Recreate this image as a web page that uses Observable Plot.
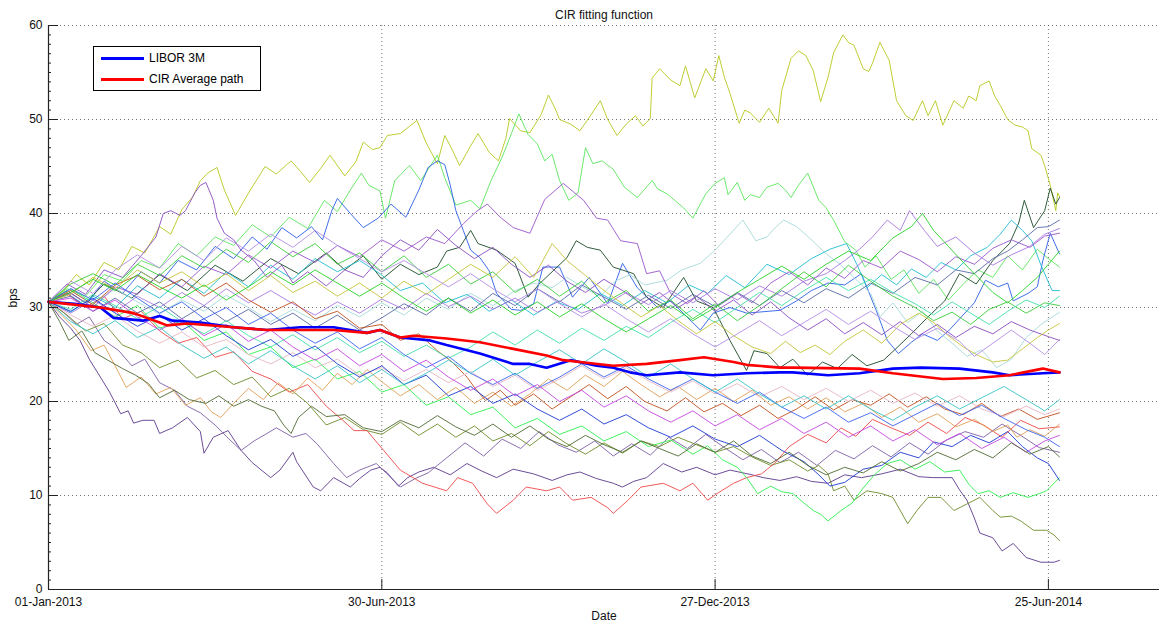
<!DOCTYPE html>
<html><head><meta charset="utf-8">
<script src="https://cdn.jsdelivr.net/npm/d3@7"></script>
<script src="https://cdn.jsdelivr.net/npm/@observablehq/plot@0.6"></script>
<style>
body{margin:0;background:#fff;font-family:"Liberation Sans",Arial,sans-serif;}
#wrap{position:relative;width:1161px;height:631px;}
#legend{position:absolute;left:93px;top:46px;width:166px;height:43px;border:1px solid #000;background:#fff;font-size:12px;color:#000;}
#legend .row{position:absolute;left:0;height:14px;display:flex;align-items:center;}
#legend .sw{display:inline-block;width:43px;height:0;border-top:3px solid;margin-left:7px;margin-right:5px;}
</style>
</head><body>
<div id="wrap"><div id="chart"></div>
<div id="legend">
 <div class="row" style="top:4px"><span class="sw" id="sw1"></span><span id="lg1"></span></div>
 <div class="row" style="top:25px"><span class="sw" id="sw2"></span><span id="lg2"></span></div>
</div></div>
<script>
const chartTitle = "CIR fitting function";
const yLabel = "bps";
const xLabel = "Date";
const legendLabels = ["LIBOR 3M", "CIR Average path"];
const legendColors = ["#0000ff", "#ff0000"];
const startDate = "2013-01-01";
const xDomainEnd = "2014-08-24";
const xTickDates = ["2013-01-01", "2013-06-30", "2013-12-27", "2014-06-25"];
const yTicks = [0, 10, 20, 30, 40, 50, 60];

// LIBOR 3M: [day since 01-Jan-2013, bps]
const libor = [[0,30.6],[14,30.4],[28,30],[35,28.9],[51,28.6],[60,29.1],[67,28.6],[82,28.4],[100,27.9],[118,27.6],[136,27.9],[154,27.9],[172,27.3],[179,27.6],[190,26.8],[206,26.5],[215,26],[233,25.1],[251,24],[260,24],[269,23.6],[282,24.4],[296,23.8],[305,23.6],[314,23.1],[323,22.8],[341,23.1],[359,22.8],[377,23],[395,23.1],[402,23.1],[421,22.8],[438,23],[456,23.5],[471,23.6],[492,23.5],[510,23.1],[519,22.8],[537,23],[546,23.1]];
// CIR average path
const cirAverage = [[0,30.6],[28,30],[46,29.4],[60,28.4],[64,28.1],[75,28.3],[100,27.9],[118,27.6],[154,27.6],[172,27.3],[179,27.6],[190,26.8],[197,27],[215,26.7],[233,26.3],[251,25.6],[269,24.9],[278,24.4],[287,24.2],[305,23.8],[323,24],[341,24.4],[354,24.7],[370,24.2],[377,23.9],[395,23.6],[402,23.6],[438,23.5],[456,23],[483,22.4],[501,22.5],[519,22.8],[537,23.5],[546,23.1]];

const pathColors = ["#b8c81e","#5ce65c","#2b5fe8","#1c4a28","#5c3a8c","#7d5fa6","#6e8c2a","#ee4848","#30f050","#a6dada","#20bcd0","#9a55cc","#8a4cc0","#a679e0","#5a6aa6","#e0a058","#c0501e","#3acc3a","#44e0a8","#c4c43a","#e8b6c4","#1c3ad0","#3c64f0","#c448e0","#4f6a32","#38c4c8","#b48ee6","#28d028"];

const simPaths = [
[[0,30.6],[8,31.8],[15,33.5],[22,32.4],[30,34.8],[38,34],[45,36.5],[52,35.8],[60,38.6],[66,37.8],[72,40.4],[78,41.8],[82,43.5],[86,44.3],[91,44.9],[95,42.5],[101,39.8],[109,42.5],[117,45],[123,44.2],[131,45.6],[136,44.5],[141,43.3],[147,44.8],[152,46.2],[160,44],[166,45.5],[170,47.6],[175,46.8],[179,47],[183,48.3],[190,48.5],[199,49.9],[204,47.5],[210,45.3],[214,48.3],[218,46.8],[222,45.1],[228,47.2],[232,48.5],[238,46.5],[243,45.6],[247,48],[249,50.1],[255,48.8],[260,48.6],[266,50.5],[270,52.6],[274,51],[276,50],[282,49.5],[287,48.8],[293,50.5],[298,52],[302,50],[307,48.3],[312,49.5],[317,50.4],[321,49.3],[325,50.1],[326,54.4],[330,55.4],[336,54.2],[341,53.6],[344,55.7],[349,52.3],[355,55.4],[359,54.1],[362,56.8],[365,54.5],[368,52.8],[373,49.6],[376,51],[379,50.7],[384,49.7],[389,51.2],[394,49.6],[396,53.1],[401,56.5],[405,57.3],[409,56.8],[413,55.2],[417,51.9],[421,54.5],[424,57.1],[429,59],[432,58.2],[435,57.9],[440,55.4],[443,55.1],[445,56],[449,58.2],[454,56.3],[458,52],[463,50.4],[467,49.9],[470,51.2],[472,52],[475,50.4],[479,52],[483,49.4],[489,52],[494,51.2],[497,52.5],[501,52],[503,53.6],[508,54.1],[511,52.5],[514,51.5],[518,50],[522,49.4],[526,49.2],[529,48.8],[531,46.9],[536,46.2],[538,45.1],[541,43],[544,40.3],[545,42.2],[546,41.8]],
[[0,30.6],[10,32],[20,31.2],[30,33.5],[40,32.8],[50,35],[60,34.2],[70,36.8],[80,35.5],[90,37.5],[100,36.6],[110,38.8],[120,37.5],[130,39.6],[140,38.4],[149,41.4],[156,40.2],[163,42.5],[169,44.3],[173,43],[179,42.4],[182,39.5],[187,43.5],[195,45.1],[201,43.5],[210,46.2],[214,43.8],[220,40.9],[228,41.4],[233,40.5],[239,43.5],[245,46],[250,48.5],[254,50.6],[259,48.4],[264,47.4],[268,45.6],[272,46.3],[276,43.5],[281,41.4],[286,42.2],[290,47],[294,45.3],[299,45.6],[305,44.7],[311,42.8],[318,41.7],[326,43.5],[329,42.6],[334,42.1],[343,40.6],[348,39.5],[352,41],[355,42.1],[360,43.2],[365,43.8],[367,42],[372,43.3],[376,41.4],[379,42],[384,41.7],[388,42.8],[394,43.2],[398,42.5],[401,41.7],[405,43],[410,44.3],[416,41.4],[420,40.6],[424,39.3],[430,37],[436,36.1],[441,34.3],[447,35.5],[455,33],[462,34],[470,31.5],[478,33],[486,30.8],[494,32.5],[502,34],[510,33.2],[518,35.5],[526,34],[534,36.2],[540,35.2],[546,34.3]],
[[0,30.6],[10,31.5],[20,30.2],[30,32.8],[40,31.5],[50,33.8],[60,32.6],[70,35],[80,34],[90,36.5],[100,35.2],[110,37.5],[118,36.2],[126,38.5],[134,37.4],[142,38.6],[148,37.2],[153,40.3],[156,41.6],[163,40],[170,38.5],[178,39.5],[185,41],[193,39.6],[200,42.5],[205,44.9],[210,45.6],[214,45.2],[217,43],[220,40.3],[224,38.2],[228,36.1],[233,35.3],[238,33.9],[242,31.5],[250,29.8],[255,29.7],[262,30.4],[267,34.3],[276,34.3],[283,31.1],[292,33.2],[302,30.4],[310,34.7],[318,32.1],[329,30],[336,30.7],[352,27.6],[359,29.4],[368,30],[377,29.4],[395,29.7],[404,30.7],[412,31.8],[421,32.6],[430,32.4],[439,33.6],[447,29.7],[453,26.5],[459,25.1],[466,26.3],[472,27.2],[480,26.5],[486,27.5],[493,29],[500,30.5],[506,32.9],[513,32.2],[518,32.6],[521,30.7],[529,31.5],[534,32.2],[537,35],[541,37.9],[546,35.7]],
[[0,30.6],[10,31.8],[20,30.5],[30,32.5],[45,31],[60,33.5],[75,31.8],[90,34.5],[105,32.8],[120,35.2],[135,33.6],[150,35.8],[160,34],[170,35.5],[180,33],[190,34.6],[200,33.5],[210,34.3],[215,36],[222,36.4],[228,38.2],[232,36.8],[242,36.1],[252,34.7],[259,31.1],[265,32.5],[280,35.3],[285,37.1],[291,36.4],[298,36.1],[305,34.3],[316,33.6],[323,31.1],[332,30],[343,33.2],[350,30.7],[359,30],[368,26.5],[377,23.3],[381,25.4],[388,25.1],[395,23.6],[402,24.5],[410,22.8],[418,24.2],[426,23.5],[434,25],[442,23.8],[451,24.4],[457,25.5],[466,27.2],[475,29],[484,30.7],[492,33.6],[501,32.5],[510,35],[519,36.8],[524,39],[527,41.4],[532,38.5],[538,40.3],[541,42.7],[544,41],[546,41.7]],
[[0,30.6],[6,29],[12,27.8],[17,26.5],[22,24.5],[28,22.6],[33,21],[39,18.7],[43,19],[46,17.7],[51,18],[57,18],[60,16.6],[67,17.2],[75,18.3],[82,16.8],[84,14.5],[89,16.2],[97,16.9],[104,14.8],[110,13.5],[120,11.9],[125,12.7],[132,14.6],[134,13.6],[143,10.9],[147,10.5],[154,11.9],[163,10.9],[168,11.8],[174,12.7],[179,13],[183,12.4],[189,11],[194,11.9],[200,12.5],[208,13],[217,12.2],[226,13.4],[234,12.6],[242,11.9],[251,12.8],[262,12.3],[272,11.6],[280,12.2],[287,12.5],[296,11.8],[305,11.3],[310,10.9],[316,11.5],[323,11.9],[332,13.4],[342,12.5],[350,13],[360,12.2],[368,12.7],[380,12.2],[386,11.9],[395,11.6],[404,12],[412,11.5],[421,11.3],[430,12.2],[439,11.9],[450,12.3],[460,12.8],[470,12],[478,11.9],[488,11.9],[492,10.6],[496,9.5],[500,7.6],[503,6],[510,5.5],[515,4.1],[521,4.9],[528,3.4],[536,2.9],[543,2.9],[546,3.1]],
[[0,30.6],[8,29.5],[15,28.2],[22,29],[30,26.5],[38,25.4],[45,23.8],[52,24.5],[60,22],[68,21.2],[75,19.5],[82,18.8],[90,17.5],[97,16.1],[104,14.8],[111,15.8],[118,16.6],[123,17.2],[132,16.2],[139,16.6],[145,15.5],[154,13.4],[161,11.9],[168,12.7],[177,13.4],[185,11.9],[190,10.9],[198,11.8],[205,12.4],[215,14],[225,15.6],[235,14.2],[245,16],[255,15],[265,16.8],[275,15.4],[285,14.6],[295,15.8],[305,14.2],[315,15.5],[325,14.3],[335,16.2],[345,15],[355,16.5],[365,15.1],[375,13.8],[385,14.9],[395,13.5],[405,14.6],[415,13.2],[425,14.8],[435,13.9],[445,15.3],[455,14.1],[465,15.6],[475,14.4],[485,15.9],[495,16.8],[505,16.2],[515,17.6],[525,16.4],[535,15.1],[546,14.6]],
[[0,30.6],[10,29.2],[20,27.5],[30,28.3],[40,26],[50,25.2],[60,23.6],[70,24.4],[80,22.5],[90,23.3],[100,21.8],[110,22.6],[120,20.5],[130,21.4],[140,19.8],[150,17.5],[160,18.3],[170,17],[180,16.5],[190,17.8],[200,16.4],[210,17.6],[220,16.2],[230,17.4],[240,15.8],[250,16.6],[260,15.3],[270,16.8],[280,15.5],[290,14.4],[300,15.6],[310,14.5],[320,15.8],[330,15.2],[340,16.2],[350,15.4],[360,14.6],[370,15.2],[380,14.1],[390,13.2],[400,13.8],[410,12.6],[416,13.2],[421,12.3],[424,10.5],[430,11],[435,9.5],[442,10.5],[450,10.2],[456,9.8],[464,7],[469,8.4],[475,9.8],[482,9.8],[489,8.4],[496,9.1],[503,9.8],[510,8.4],[514,7.7],[520,7.8],[525,7.3],[532,6.3],[539,6.3],[543,5.8],[546,5.2]],
[[0,30.6],[10,31.5],[20,30],[30,31.2],[40,28.8],[50,29.6],[60,27.5],[70,26.2],[80,26.8],[90,24.7],[100,25.3],[110,23.2],[120,22.4],[130,21],[140,21.8],[150,19.5],[159,18],[165,16.9],[172,16.9],[181,14.8],[190,12.7],[202,11.3],[215,10.5],[221,11.9],[229,11.3],[237,9.1],[242,8.1],[251,9.5],[258,10.9],[269,10.5],[276,10.9],[283,9.5],[293,9.8],[302,8.7],[305,8.1],[313,9.5],[320,10.9],[332,11.3],[341,10.5],[348,11.3],[356,9.5],[361,10.2],[370,11.3],[377,11.9],[385,12.3],[392,13.4],[400,15.2],[410,16.5],[420,15.6],[428,17.2],[436,16.3],[445,18.1],[455,17.2],[465,16.4],[475,17.8],[485,16.6],[495,18.3],[505,17.5],[515,16.2],[525,18],[535,17.1],[546,17.3]],
[[0,30.6],[12,32],[24,30.5],[36,29],[48,30.2],[60,27.8],[72,28.6],[84,26.5],[96,27.4],[108,25],[120,25.8],[132,23.6],[144,24.5],[156,22.4],[168,23.2],[180,21],[192,21.8],[204,19.6],[216,20.5],[228,18.6],[240,19.4],[252,17.2],[264,18.2],[276,16.5],[288,17.4],[300,15.8],[312,16.8],[324,15.2],[336,15.9],[348,14.4],[356,15.3],[364,13.8],[372,13],[377,11.9],[383,10.2],[390,11],[396,10.4],[402,10.2],[408,9.2],[413,8.4],[417,8],[421,7.3],[428,8.4],[434,9.2],[440,10.8],[446,12.2],[453,13.4],[460,13.8],[468,12.8],[476,13.6],[484,12.5],[492,12.7],[497,11.2],[502,10.2],[508,10.5],[514,9.8],[521,10.3],[529,9.8],[535,10.2],[539,10.5],[546,11.9]],
[[0,30.6],[12,31.8],[24,30.4],[36,32],[48,30.6],[60,29.3],[72,30.8],[84,29.6],[96,31.3],[108,30],[120,28.5],[132,29.8],[144,28.6],[156,30.2],[168,29],[180,30.5],[192,29.2],[204,31],[216,29.8],[228,31.5],[240,30.2],[252,31.8],[262,32.6],[272,32.1],[280,33.2],[290,32],[298,31.2],[306,32.8],[314,33.5],[322,32.4],[334,32.9],[342,34],[352,34.7],[360,36.1],[368,37.8],[375,39.3],[382,37.1],[388,37.5],[392,38.4],[397,39.3],[404,38.6],[411,37.4],[420,35.7],[428,34.5],[436,33],[444,31.5],[449,29],[456,30.5],[464,28.4],[472,29.6],[480,27.5],[488,26.2],[496,24.8],[504,25.5],[512,23.6],[520,24.5],[528,26.8],[536,28.2],[546,29.5]],
[[0,30.6],[12,29.5],[24,31.2],[36,30],[48,32.3],[60,31],[72,33],[84,31.5],[96,33.8],[108,32.2],[120,34.5],[132,33],[144,35.2],[156,33.8],[168,35],[179,33.6],[190,31.8],[202,32.6],[214,30.5],[226,31.4],[238,29.6],[250,30.8],[262,29.2],[274,30.6],[286,29.8],[298,31.5],[310,30.2],[322,31.8],[334,30.5],[346,32.4],[356,31.5],[366,33.4],[376,32.1],[388,34.6],[400,33.5],[412,35.2],[422,36.2],[431,36.8],[437,34.4],[442,32.1],[450,33.5],[458,32.4],[466,34.1],[474,33.2],[482,34.8],[490,34],[498,35.5],[507,36.4],[514,37.8],[520,39.3],[526,38.2],[531,37.1],[536,34.5],[542,31.8],[546,31.8]],
[[0,30.6],[12,31.5],[24,30],[36,32.2],[48,31.4],[60,33.6],[72,32.2],[84,34.4],[96,33.5],[108,35.6],[120,34.2],[132,36],[144,34.8],[156,36.6],[168,35.4],[180,37.2],[192,36],[204,37.5],[214,36.8],[224,38.9],[231,40.2],[237,41],[244,39.6],[251,38.5],[260,37.9],[268,41.5],[278,43.2],[289,41.4],[296,39.5],[302,39.3],[309,37.1],[318,36.8],[323,33.6],[330,33.9],[336,31.5],[345,30.4],[354,31.8],[362,30.2],[372,31.5],[380,30.5],[390,32.6],[400,33.8],[410,32.4],[420,34.2],[430,33.1],[440,35],[450,34.2],[460,36],[470,35.1],[480,33.8],[490,35.4],[500,34.6],[510,36.3],[520,37.2],[530,36.4],[538,37.6],[546,37.9]],
[[0,30.6],[10,32.5],[20,31.4],[30,34],[40,33.2],[50,35.5],[58,37.5],[62,40],[66,40.3],[71,39.8],[74,40.3],[79,42.2],[82,43],[85,43.3],[89,41.4],[91,39.5],[95,37.9],[100,37.2],[104,36.1],[111,35],[118,33.2],[126,34.5],[132,32.6],[140,33.8],[150,32.3],[160,34],[170,33.2],[180,35.5],[190,37.2],[200,36.1],[210,38.3],[220,36.6],[230,35.2],[240,36.4],[250,34.6],[260,33.2],[270,34.5],[280,32.8],[290,31.6],[300,33],[310,31.8],[320,30.4],[330,31.6],[340,30],[350,31.2],[360,29.6],[370,30.8],[380,29.2],[390,30.6],[400,28.9],[410,27.6],[420,28.8],[430,27.2],[440,28.4],[450,27.1],[460,28.5],[470,27],[480,28.2],[490,26.8],[500,28],[510,27.2],[520,28.5],[530,27.6],[540,26.9],[546,26.5]],
[[0,30.6],[12,29.4],[24,30.8],[36,29.5],[48,31.2],[60,30],[72,31.6],[84,30.2],[96,32],[108,30.5],[120,31.8],[132,30.4],[144,29.2],[156,30.6],[168,29.4],[180,30.9],[192,29.8],[204,31.5],[216,30.1],[228,31.2],[240,29.8],[252,31],[264,29.5],[276,30.7],[288,29.4],[300,30.2],[312,31.6],[324,30.3],[336,31.8],[348,30.5],[360,32],[372,30.8],[384,32.3],[396,31.2],[408,32.8],[420,33.6],[430,35],[438,36.2],[445,37.5],[453,39.3],[460,38.2],[465,40.3],[473,38.2],[480,36.5],[490,37.5],[500,35.8],[510,34.5],[520,35.6],[530,36.5],[538,37.8],[546,38.4]],
[[0,30.6],[12,31.2],[24,29.6],[36,31],[48,29.4],[60,30.6],[72,28.8],[84,30.2],[96,28.5],[108,29.8],[120,28.2],[132,29.4],[144,27.8],[156,29.2],[168,27.6],[180,28.9],[192,30.4],[204,29.2],[216,31],[228,29.6],[240,31.5],[252,30.2],[264,32],[276,30.6],[288,32.4],[300,31.1],[312,29.8],[324,31.3],[336,29.9],[348,31.4],[360,30.1],[372,31.6],[384,30.2],[396,31.8],[408,30.5],[420,32],[432,31],[444,32.6],[456,31.5],[468,33.2],[480,32.4],[490,34],[500,33.6],[510,35.2],[518,36],[526,37.2],[534,38.5],[540,38.6],[546,39.3]],
[[0,30.6],[8,29],[15,27.6],[23,25.4],[30,26],[36,23.8],[42,21.5],[50,22.6],[58,20.8],[66,21.5],[74,19.6],[82,20.4],[88,18.9],[93,18.3],[100,19.8],[108,21.4],[116,20.2],[124,22],[132,20.8],[140,22.5],[148,21.2],[156,23],[164,21.8],[172,23.4],[180,22.1],[190,20.6],[200,21.8],[210,20.2],[220,21.5],[230,19.8],[240,21],[250,19.5],[260,20.8],[270,22.4],[280,21.2],[290,22.8],[300,21.6],[310,23.2],[320,21.8],[330,20.5],[340,21.6],[350,20.2],[360,21.4],[370,20],[380,21.2],[390,19.6],[400,20.5],[410,19.2],[420,20.4],[430,18.9],[440,19.8],[450,18.3],[460,19.4],[470,17.8],[480,18.7],[490,17.3],[500,18.1],[510,16.8],[518,17.5],[523,16.2],[530,17],[538,16.3],[546,17.6]],
[[0,30.6],[12,31.8],[24,30.3],[36,32.4],[48,33.4],[60,31.9],[72,33],[84,31.2],[96,32.6],[108,30.8],[120,29.5],[132,30.6],[144,28.8],[156,29.6],[168,27.8],[180,28.2],[190,26.5],[200,27.2],[210,25.4],[218,24.2],[226,22.6],[230,21.5],[236,20.1],[244,21.2],[252,19.6],[262,20.8],[272,19.2],[282,20.5],[292,21.8],[302,20.3],[312,21.6],[322,20],[334,19],[344,20.4],[354,18.9],[364,19.8],[374,18.5],[384,19.6],[394,18.2],[404,19.2],[414,20.5],[424,19.1],[434,20.2],[444,19.6],[454,20.8],[464,19.4],[474,20.5],[484,19.2],[494,18.6],[504,19.8],[514,18.4],[524,19.2],[534,18.1],[546,18.8]],
[[0,30.6],[12,32.5],[24,33.6],[36,32.4],[48,34.6],[60,33.4],[72,35.5],[84,34.2],[96,36.2],[108,34.8],[120,37],[132,35.4],[144,36.8],[156,34.6],[168,35.8],[180,33.8],[192,35.5],[204,33.2],[216,34.6],[228,32.5],[240,33.8],[252,31.6],[264,33],[276,31.2],[288,32.8],[300,30.5],[312,31.8],[324,29.6],[336,30.8],[348,28.8],[360,30.4],[372,28.6],[384,30.2],[396,32],[408,33.8],[420,32.2],[432,34.5],[444,32.8],[456,31.2],[468,30],[478,28.6],[488,29.5],[498,28.2],[508,29.8],[518,30.6],[528,29.4],[538,30.5],[546,30.2]],
[[0,30.6],[12,29.8],[24,31.4],[36,30.2],[48,28.8],[60,30.1],[72,28.5],[84,27.2],[96,28.6],[108,27],[120,25.8],[132,27.1],[144,25.5],[156,26.8],[168,25.2],[180,26.4],[192,24.8],[204,26],[216,24.6],[228,25.8],[240,27.4],[252,26],[264,27.6],[276,26.2],[288,27.8],[300,26.5],[312,28],[324,26.8],[336,28.4],[348,29.8],[360,28.4],[372,30],[384,31.6],[396,30.2],[408,31.8],[420,33.2],[432,31.8],[444,33],[456,31.6],[468,30.4],[478,29.2],[488,30.6],[498,29.4],[508,28.2],[518,29.6],[528,30.8],[538,30],[546,31.2]],
[[0,30.6],[12,31.4],[24,33.2],[36,32],[48,34],[60,32.6],[72,33.8],[84,32.2],[96,33.6],[108,31.8],[120,33.4],[132,31.6],[144,32.8],[156,31.2],[168,32.6],[180,31],[192,32.8],[204,31.4],[216,33],[228,34.6],[240,33.2],[252,35.4],[262,33.2],[272,36.8],[280,35],[290,33.4],[300,31.8],[310,30.4],[320,29],[330,30.2],[340,28.6],[350,27.2],[360,28.5],[370,27],[380,25.8],[390,25.1],[398,26.4],[406,25.2],[414,26],[422,25],[430,26.4],[440,27.6],[450,26.2],[460,28.2],[470,29.4],[478,28.4],[486,27],[494,25.8],[502,24.9],[510,24.2],[518,24.4],[526,25.6],[534,26.8],[540,27.6],[546,28.3]],
[[0,30.6],[12,29.2],[24,28],[36,29.2],[48,27.5],[60,26.2],[72,27.4],[84,25.8],[96,26.6],[108,25],[120,24],[132,25.2],[144,23.6],[156,24.5],[168,22.8],[180,23.6],[192,22.2],[204,23.4],[216,22],[228,23.2],[240,21.6],[252,22.8],[264,21.2],[276,22.4],[288,23.8],[300,22.4],[312,23.6],[324,22.2],[336,21],[348,22.2],[360,20.8],[372,21.9],[384,20.5],[396,21.6],[408,20.2],[420,21.4],[432,20],[444,21.2],[456,19.8],[468,20.9],[480,19.5],[492,20.6],[504,19.2],[516,18.4],[528,19.5],[538,18.6],[546,19.2]],
[[0,30.6],[12,29.6],[24,31],[36,29.4],[48,28],[60,29.2],[72,27.6],[84,28.8],[96,27],[108,25.5],[120,26.6],[132,24.8],[144,25.9],[156,24],[168,22.6],[180,23.8],[192,21.8],[204,22.8],[216,20.6],[228,21.6],[240,19.8],[252,20.8],[264,19.2],[276,18],[288,19.2],[300,17.6],[312,18.6],[324,17.2],[336,16.2],[348,17.4],[360,16],[372,15.2],[384,16.4],[396,14.8],[408,13.6],[416,12.2],[422,11],[430,11.4],[440,12.8],[450,13.2],[460,14.6],[470,14],[478,15.7],[488,15.2],[498,16.4],[508,15.6],[518,16.8],[526,15.2],[534,14],[540,13.4],[546,11.6]],
[[0,30.6],[12,32],[24,30.8],[36,32.6],[48,31],[60,29.4],[72,30.6],[84,28.8],[96,30],[108,28.2],[120,29.4],[132,27.6],[144,26.2],[156,27.4],[168,25.6],[180,26.8],[192,25],[204,23.6],[216,24.8],[228,23],[240,21.8],[252,23],[264,21.4],[276,22.6],[288,24],[300,22.6],[312,23.8],[324,22.4],[336,21.2],[348,22.4],[360,21],[372,19.8],[384,21],[396,19.4],[408,18.2],[420,19.4],[432,17.8],[444,18.8],[456,17.4],[468,18.6],[480,19.8],[492,18.5],[504,19.6],[516,18.2],[528,17],[538,16.2],[546,15.2]],
[[0,30.6],[12,31],[24,29.6],[36,30.8],[48,29],[60,27.6],[72,28.8],[84,27],[96,28.2],[108,26.4],[120,27.6],[132,25.8],[144,24.4],[156,25.6],[168,23.8],[180,25],[192,23.2],[204,24.4],[216,22.6],[228,21.2],[240,22.4],[252,20.6],[264,21.8],[276,20],[288,21.2],[300,19.4],[312,20.6],[324,19],[336,17.8],[348,19],[360,17.4],[372,18.6],[384,17],[396,18.2],[408,16.6],[420,17.8],[432,16.2],[444,17.4],[456,15.8],[468,17],[480,15.4],[492,16.6],[504,15],[516,16.2],[528,14.6],[538,15.8],[546,16.4]],
[[0,30.6],[6,28.5],[11,26.5],[18,27.5],[25,25.2],[32,24.4],[40,23.5],[47,22.8],[54,21.9],[60,20.4],[68,21.2],[76,20.2],[85,19.8],[92,20.6],[100,19.5],[108,20.2],[115,19.5],[122,19],[127,17.5],[131,16.6],[135,18.3],[142,19.5],[150,18.4],[160,18.6],[170,17.2],[180,16.8],[190,18],[200,17.2],[210,18.5],[220,17.3],[230,16.4],[240,17.6],[250,16.2],[260,17.4],[270,16],[280,15.2],[290,16.4],[300,15.4],[310,14.6],[320,15.8],[330,15],[340,14.2],[350,15.5],[360,14.6],[370,15.8],[380,14.2],[390,13.4],[400,14.6],[410,13.2],[420,12.2],[430,13],[440,12.4],[450,13.6],[460,12.6],[470,13.4],[480,14.6],[490,13.8],[500,14.9],[510,14],[520,15.6],[530,14.4],[540,15.2],[546,14.1]],
[[0,30.6],[12,28.5],[24,27.2],[36,28.6],[48,26.8],[60,27.9],[72,26],[84,24.6],[96,25.8],[108,24],[120,25.4],[132,23.8],[144,22.4],[156,23.8],[168,22],[180,23.4],[192,21.8],[204,23],[216,24.4],[228,23],[240,24.5],[252,22.8],[264,24.2],[276,25.5],[288,24],[300,25.6],[312,24.2],[324,22.6],[336,24],[348,22.4],[360,21],[372,22.4],[384,20.8],[396,19.4],[408,20.6],[420,19.2],[432,20.6],[444,19.2],[456,18],[468,19.4],[480,20.6],[492,19.2],[504,20.4],[516,21.6],[528,20.2],[538,19],[546,20.2]],
[[0,30.6],[12,32.8],[24,31.5],[36,34],[48,35.6],[60,34.2],[72,36.5],[84,35],[96,37.4],[108,36],[120,37.8],[132,36.4],[144,38.2],[156,36.6],[168,35.2],[180,33.8],[192,35],[204,33.6],[216,32.2],[228,33.6],[240,32],[252,30.6],[264,32],[276,30.4],[288,29],[300,30.4],[312,28.8],[324,27.4],[336,28.8],[348,27.2],[360,25.8],[372,27.2],[384,28.6],[396,27],[408,28.4],[420,29.8],[432,28.2],[444,29.6],[456,28],[468,26.6],[480,27.8],[492,26.4],[500,24.8],[510,26.2],[520,27.6],[530,26.2],[538,25],[546,26.6]],
[[0,30.6],[12,31.6],[24,33],[36,31.8],[48,33.5],[60,32.2],[72,31],[84,32.4],[96,30.8],[108,32.2],[120,33.8],[132,32.4],[144,34],[156,32.6],[168,31.2],[180,32.6],[192,31],[204,29.6],[216,31],[228,29.4],[240,30.8],[252,29.2],[264,30.6],[276,29],[288,30.4],[300,28.8],[312,27.4],[324,28.8],[336,30.2],[348,28.6],[360,30],[372,31.6],[384,33],[396,34.4],[408,33],[420,34.6],[432,36],[444,35],[456,37.4],[466,38.6],[472,40],[478,38.2],[486,36.5],[494,34.8],[502,33.2],[510,31.6],[518,30.5],[526,31.8],[534,33.2],[540,34.6],[546,36]]
];

const day0 = Date.UTC(2013, 0, 1);
const toRows = arr => arr.map(([d, v]) => ({date: new Date(day0 + d * 864e5), value: v}));
const yMinor = d3.range(0, 61, 1);
const fmt = d3.utcFormat("%d-%b-%Y");
const xTicks = xTickDates.map(s => new Date(s));
const gridStyle = {stroke: "#444", strokeOpacity: 0.75, strokeDasharray: "1,3"};

const marks = [
  Plot.ruleY(yTicks.slice(1), gridStyle),
  Plot.ruleX(xTicks.slice(1), gridStyle),
  ...simPaths.map((p, i) => Plot.line(toRows(p), {x: "date", y: "value", stroke: pathColors[i], strokeWidth: 1, strokeOpacity: 0.9})),
  Plot.line(toRows(libor), {x: "date", y: "value", stroke: legendColors[0], strokeWidth: 2.6}),
  Plot.line(toRows(cirAverage), {x: "date", y: "value", stroke: legendColors[1], strokeWidth: 2.6}),
  Plot.ruleY([0], {stroke: "#222", strokeWidth: 1.2}),
  Plot.ruleX([new Date(startDate)], {stroke: "#222", strokeWidth: 1.2}),
  Plot.axisY(yTicks, {tickSize: 0, tickPadding: 6, label: null, fontSize: 12}),
  Plot.axisY(yTicks, {tickSize: -10, fill: "none", stroke: "#222", label: null}),
  Plot.axisY(yMinor, {tickSize: -3, fill: "none", stroke: "#222", label: null}),
  Plot.axisX(xTicks, {tickSize: 0, tickPadding: 8, tickFormat: fmt, label: null, fontSize: 12}),
  Plot.axisX(xTicks, {tickSize: -10, fill: "none", stroke: "#222", label: null}),
  Plot.text([chartTitle], {frameAnchor: "top", dy: -15, fontSize: 12}),
  Plot.text([yLabel], {frameAnchor: "left", dx: -35, rotate: -90, fontSize: 12}),
  Plot.text([xLabel], {frameAnchor: "bottom", dy: 30, fontSize: 12})
];

const chart = Plot.plot({
  width: 1161, height: 631,
  marginLeft: 48, marginRight: 2, marginTop: 25, marginBottom: 42,
  x: {type: "utc", domain: [new Date(startDate), new Date(xDomainEnd)]},
  y: {domain: [0, 60]},
  style: {fontFamily: "'Liberation Sans', Arial, sans-serif", fontSize: "12px", color: "#111", background: "#fff"},
  marks
});
document.getElementById("chart").appendChild(chart);
document.getElementById("sw1").style.borderColor = legendColors[0];
document.getElementById("sw2").style.borderColor = legendColors[1];
document.getElementById("lg1").textContent = legendLabels[0];
document.getElementById("lg2").textContent = legendLabels[1];
</script>
</body></html>
